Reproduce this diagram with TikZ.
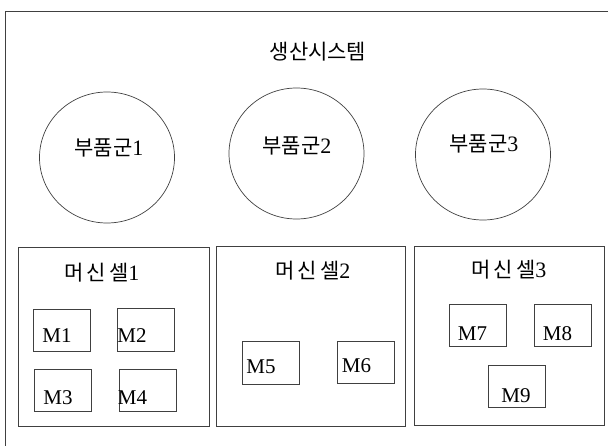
\documentclass[tikz,border=0pt]{standalone}
\usepackage{fontspec}
\setmainfont{Liberation Serif}
\newfontfamily\kr{Noto Sans CJK KR}
\usetikzlibrary{shapes.geometric}
\begin{document}
\begin{tikzpicture}[x=1pt,y=-1pt,
  ln/.style={draw=black!75, line width=0.7pt},
  grp/.style={ln, ellipse, inner sep=0pt, minimum width=135pt, minimum height=131pt},
  cell/.style={ln, rectangle, inner sep=0pt},
  mbox/.style={ln, rectangle, inner sep=0pt, minimum width=57pt, minimum height=42.5pt},
  mlabel/.style={inner sep=0pt, font=\fontsize{21}{24}\selectfont},
  krlabel/.style={inner sep=0pt, font=\fontsize{21}{24}\selectfont\kr},
]
\useasboundingbox (0,0) rectangle (611,446);
% outer frame (only top and left edges visible)
\coordinate (tl) at (5,11);
\coordinate (tr) at (608,11);
\coordinate (bl) at (5,446);
\draw[ln] (tr) -- (tl) -- (bl);

\node[krlabel] (title) at (318,52) {생산시스템};

% part groups
\node[grp] (g1) at (107,157.5) {};
\node[grp] (g2) at (296.5,153.5) {};
\node[grp] (g3) at (483,154.5) {};
\node[krlabel] (g1t) at (109,148) {부품군{\rmfamily\fontsize{22}{24}\selectfont 1}};
\node[krlabel] (g2t) at (297,146) {부품군{\rmfamily\fontsize{22}{24}\selectfont 2}};
\node[krlabel] (g3t) at (484,144) {부품군{\rmfamily\fontsize{22}{24}\selectfont 3}};

% machine cells
\node[cell, minimum width=191pt, minimum height=179pt] (c1) at (113.5,336.5) {};
\node[cell, minimum width=189pt, minimum height=180pt] (c2) at (310.5,336) {};
\node[cell, minimum width=190pt, minimum height=179pt] (c3) at (509,335.5) {};
\node[krlabel] (c1t) at (102,273) {머\kern3pt 신\kern3pt 셀{\rmfamily\fontsize{22}{24}\selectfont 1}};
\node[krlabel] (c2t) at (313,271) {머\kern3pt 신\kern3pt 셀{\rmfamily\fontsize{22}{24}\selectfont 2}};
\node[krlabel] (c3t) at (509,270) {머\kern3pt 신\kern3pt 셀{\rmfamily\fontsize{22}{24}\selectfont 3}};

% machines
\node[mbox] (m1) at (61.5,330.5) {};
\node[mbox] (m2) at (146,330) {};
\node[mbox] (m3) at (62.5,390.5) {};
\node[mbox] (m4) at (147.5,390.5) {};
\node[mbox] (m5) at (270.5,363) {};
\node[mbox] (m6) at (365.5,362.5) {};
\node[mbox] (m7) at (477.5,325.5) {};
\node[mbox] (m8) at (562.5,325.5) {};
\node[mbox] (m9) at (516.5,386.5) {};

\node[mlabel] (m1t) at (57,336) {M1};
\node[mlabel] (m2t) at (132,335.5) {M2};
\node[mlabel] (m3t) at (58,397.5) {M3};
\node[mlabel] (m4t) at (132.5,397.5) {M4};
\node[mlabel] (m5t) at (261,366.5) {M5};
\node[mlabel] (m6t) at (356.5,365.5) {M6};
\node[mlabel] (m7t) at (472.5,333.5) {M7};
\node[mlabel] (m8t) at (557.5,333.5) {M8};
\node[mlabel] (m9t) at (516,395.5) {M9};
\end{tikzpicture}
\end{document}
